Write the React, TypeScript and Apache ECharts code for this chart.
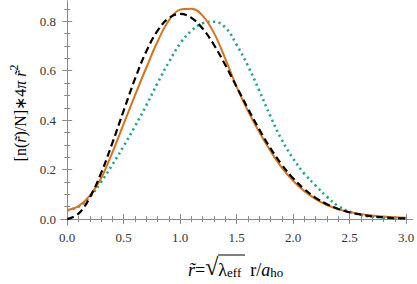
import React, { useEffect, useRef } from 'react';
import * as echarts from 'echarts';

const xValues = [0, 0.1, 0.2, 0.3, 0.4, 0.5, 0.6, 0.7, 0.8, 0.9, 1.0, 1.1, 1.2, 1.3, 1.4, 1.5, 1.6, 1.7, 1.8, 1.9, 2.0, 2.1, 2.2, 2.3, 2.4, 2.5, 2.6, 2.7, 2.8, 2.9, 3.0];
const blackDashed = [0, 0.022, 0.087, 0.186, 0.308, 0.439, 0.567, 0.678, 0.762, 0.813, 0.830, 0.814, 0.770, 0.704, 0.623, 0.535, 0.447, 0.363, 0.286, 0.220, 0.165, 0.121, 0.086, 0.060, 0.041, 0.027, 0.018, 0.011, 0.007, 0.004, 0.0025];
const orangeSolid = [0.036, 0.052, 0.095, 0.165, 0.27, 0.385, 0.50, 0.612, 0.718, 0.803, 0.847, 0.851, 0.822, 0.752, 0.648, 0.535, 0.438, 0.352, 0.275, 0.208, 0.155, 0.113, 0.081, 0.057, 0.040, 0.028, 0.020, 0.014, 0.010, 0.007, 0.005];
const tealDotted = [0.035, 0.05, 0.09, 0.15, 0.22, 0.295, 0.375, 0.46, 0.55, 0.635, 0.71, 0.762, 0.792, 0.798, 0.775, 0.705, 0.62, 0.52, 0.415, 0.32, 0.245, 0.183, 0.135, 0.09, 0.053, 0.030, 0.017, 0.010, 0.006, 0.004, 0.002];

const xMajorTicks = [0, 0.5, 1.0, 1.5, 2.0, 2.5, 3.0];
const xMinorTicks = [0.1, 0.2, 0.3, 0.4, 0.6, 0.7, 0.8, 0.9, 1.1, 1.2, 1.3, 1.4, 1.6, 1.7, 1.8, 1.9, 2.1, 2.2, 2.3, 2.4, 2.6, 2.7, 2.8, 2.9];
const yMajorTicks = [0, 0.2, 0.4, 0.6, 0.8];
const yMinorTicks = [0.05, 0.1, 0.15, 0.25, 0.3, 0.35, 0.45, 0.5, 0.55, 0.65, 0.7, 0.75, 0.85];

const X_MIN = -0.055;
const X_MAX = 3.055;
const Y_MIN = -0.024;
const Y_MAX = 0.882;

const FRAME = '#8a8a8a';
const SERIF = 'Liberation Serif';

function makeX(position: string, ticks: number[], len: number, labels: boolean, line: boolean) {
  return {
    type: 'value', position, min: X_MIN, max: X_MAX,
    axisLine: { show: line, lineStyle: { color: FRAME, width: 1 } },
    axisTick: { show: true, inside: true, length: len, customValues: ticks, lineStyle: { color: FRAME, width: 1 } },
    axisLabel: labels
      ? { show: true, customValues: xMajorTicks, formatter: (v: number) => v.toFixed(1), color: '#333', fontFamily: SERIF, fontSize: 13, margin: 6 }
      : { show: false },
    splitLine: { show: false },
  };
}

function makeY(position: string, ticks: number[], len: number, labels: boolean, line: boolean, extra: any = {}) {
  return {
    type: 'value', position, min: Y_MIN, max: Y_MAX,
    axisLine: { show: line, lineStyle: { color: FRAME, width: 1 } },
    axisTick: { show: true, inside: true, length: len, customValues: ticks, lineStyle: { color: FRAME, width: 1 } },
    axisLabel: labels
      ? { show: true, customValues: yMajorTicks, formatter: (v: number) => v.toFixed(1), color: '#333', fontFamily: SERIF, fontSize: 13, margin: 5 }
      : { show: false },
    splitLine: { show: false },
    ...extra,
  };
}

export default function App() {
  const ref = useRef<HTMLDivElement>(null);
  useEffect(() => {
    if (!ref.current) return;
    const chart = echarts.init(ref.current, null, { renderer: 'svg' });
    const pairs = (arr: number[]) => xValues.map((x, i) => [x, arr[i]]);
    chart.setOption({
      animation: false,
      textStyle: { fontFamily: SERIF },
      grid: { left: 51, right: 3, top: 1, bottom: 59, containLabel: false },
      xAxis: [
        makeX('bottom', xMajorTicks, 5, true, true),
        makeX('bottom', xMinorTicks, 3, false, false),
        makeX('top', xMajorTicks, 5, false, true),
        makeX('top', xMinorTicks, 3, false, false),
      ],
      yAxis: [
        makeY('left', yMajorTicks, 5, true, true, {
          name: '{t|[n(}{i|r̃}{t|)/N]∗4}{i|π r̃}{sup|2}',
          nameLocation: 'middle',
          nameRotate: 90,
          nameGap: 33,
          nameTextStyle: {
            fontFamily: SERIF, fontSize: 16, color: '#000',
            rich: {
              t: { fontFamily: SERIF, fontSize: 16, color: '#000', verticalAlign: 'bottom', lineHeight: 20 },
              i: { fontFamily: SERIF, fontSize: 16, fontStyle: 'italic', color: '#000', verticalAlign: 'bottom', lineHeight: 20 },
              sup: { fontFamily: SERIF, fontSize: 12, color: '#000', verticalAlign: 'top', lineHeight: 12 },
            },
          },
        }),
        makeY('left', yMinorTicks, 3, false, false),
        makeY('right', yMajorTicks, 5, false, true),
        makeY('right', yMinorTicks, 3, false, false),
      ],
      graphic: [
        {
          type: 'text',
          x: 188,
          y: 279,
          style: {
            text: '{i|r̃}{n|=}{sq|√}{n|λ}{sub|eff}{n|  r/}{i|a}{sub|ho}',
            textAlign: 'left',
            textVerticalAlign: 'bottom',
            fontFamily: SERIF,
            fontSize: 18,
            fill: '#000',
            rich: {
              i: { fontFamily: SERIF, fontSize: 18, fontStyle: 'italic', fill: '#000', verticalAlign: 'bottom', lineHeight: 22 },
              n: { fontFamily: SERIF, fontSize: 18, fill: '#000', verticalAlign: 'bottom', lineHeight: 22 },
              sq: { fontFamily: SERIF, fontSize: 24, fill: '#000', verticalAlign: 'bottom', lineHeight: 26 },
              sub: { fontFamily: SERIF, fontSize: 13, fill: '#000', verticalAlign: 'bottom', lineHeight: 14 },
            },
          },
        },
        {
          type: 'line',
          shape: { x1: 218, y1: 255, x2: 245, y2: 255 },
          style: { stroke: '#000', lineWidth: 1 },
        },
      ],
      series: [
        {
          type: 'line', name: 'teal', data: pairs(tealDotted), xAxisIndex: 0, yAxisIndex: 0,
          smooth: 0.4, showSymbol: false, symbol: 'none',
          lineStyle: { color: '#22a68e', width: 2.6, type: [2.2, 3.4], cap: 'butt' },
        },
        {
          type: 'line', name: 'orange', data: pairs(orangeSolid), xAxisIndex: 0, yAxisIndex: 0,
          smooth: 0.4, showSymbol: false, symbol: 'none',
          lineStyle: { color: '#d5741c', width: 2 },
        },
        {
          type: 'line', name: 'black', data: pairs(blackDashed), xAxisIndex: 0, yAxisIndex: 0,
          smooth: 0.4, showSymbol: false, symbol: 'none',
          lineStyle: { color: '#000', width: 2.2, type: [7, 4] },
        },
      ],
    });
    return () => chart.dispose();
  }, []);
  return <div ref={ref} style={{ width: 417, height: 284, position: 'absolute', left: 0, top: 0 }} />;
}
